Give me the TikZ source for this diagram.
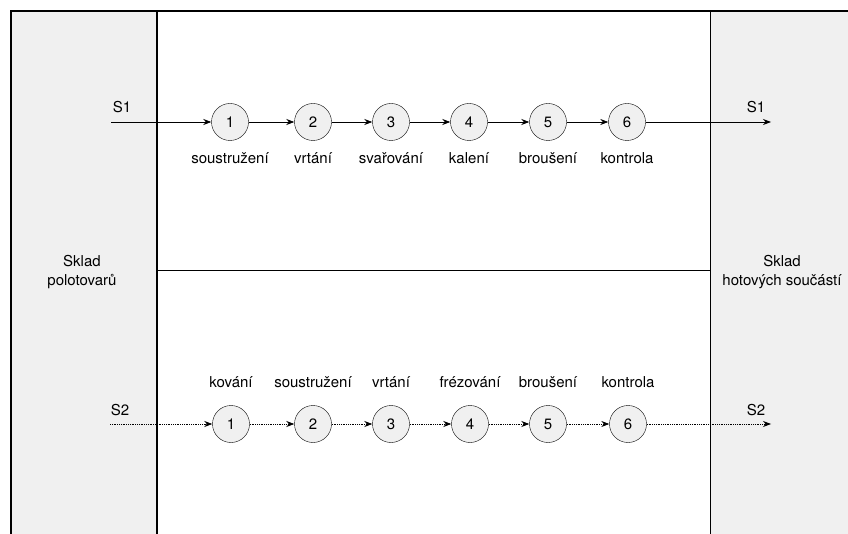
\documentclass[tikz,border=0pt]{standalone}
\usepackage{fontspec}
\setmainfont{TeX Gyre Heros}
\usetikzlibrary{arrows.meta}
\begin{document}
\begin{tikzpicture}[x=1pt,y=-1pt,
  stage/.style={circle,draw,thin,fill=black!6,minimum size=37pt,inner sep=0pt,font=\fontsize{15}{17}\selectfont},
  lbl/.style={font=\fontsize{15}{18}\selectfont,inner sep=0pt},
  flow/.style={-{Stealth[length=8pt,width=6pt]},thick},
  dflow/.style={flow,densely dotted},
  wall/.style={line width=1.2pt}]
\useasboundingbox (0,0) rectangle (848,534);
\fill[black!6] (11,11) rectangle (157,534);
\fill[black!6] (710,11) rectangle (848,534);
\draw[wall] (11,534) -- (11,11) -- (848,11);
\draw[wall] (157,11) -- (157,534);
\draw[thin] (710,11) -- (710,534);
\draw[thin] (157,270) -- (710,270);
% labels for stores
\node[lbl,align=center] (sp) at (82,272) {Sklad\\[1pt]polotovarů};
\node[lbl,align=center] (sh) at (782,272) {Sklad\\[1pt]hotových součástí};
% row 1
\coordinate (a0) at (111,122);
\coordinate (a7) at (771,122);
\node[lbl] (s1l) at (122,107) {S1};
\node[lbl] (s1r) at (756,107) {S1};
\foreach \i/\x/\t in {1/230/soustružení,2/313/vrtání,3/391/svařování,4/469/kalení,5/548/broušení,6/627/kontrola}{
  \node[stage] (a\i) at (\x,122) {\i};
  \node[lbl] (at\i) at (\x,158) {\t};
}
\draw[flow] (a0) -- (a1);
\draw[flow] (a1) -- (a2);
\draw[flow] (a2) -- (a3);
\draw[flow] (a3) -- (a4);
\draw[flow] (a4) -- (a5);
\draw[flow] (a5) -- (a6);
\draw[flow] (a6) -- (a7);
% row 2
\coordinate (b0) at (110,424);
\coordinate (b7) at (771,424);
\node[lbl] (s2l) at (120,410) {S2};
\node[lbl] (s2r) at (756,410) {S2};
\foreach \i/\x/\t in {1/231/kování,2/313/soustružení,3/391/vrtání,4/470/frézování,5/548/broušení,6/628/kontrola}{
  \node[stage] (b\i) at (\x,424) {\i};
  \node[lbl] (bt\i) at (\x,382) {\t};
}
\draw[dflow] (b0) -- (b1);
\draw[dflow] (b1) -- (b2);
\draw[dflow] (b2) -- (b3);
\draw[dflow] (b3) -- (b4);
\draw[dflow] (b4) -- (b5);
\draw[dflow] (b5) -- (b6);
\draw[dflow] (b6) -- (b7);
\end{tikzpicture}
\end{document}
